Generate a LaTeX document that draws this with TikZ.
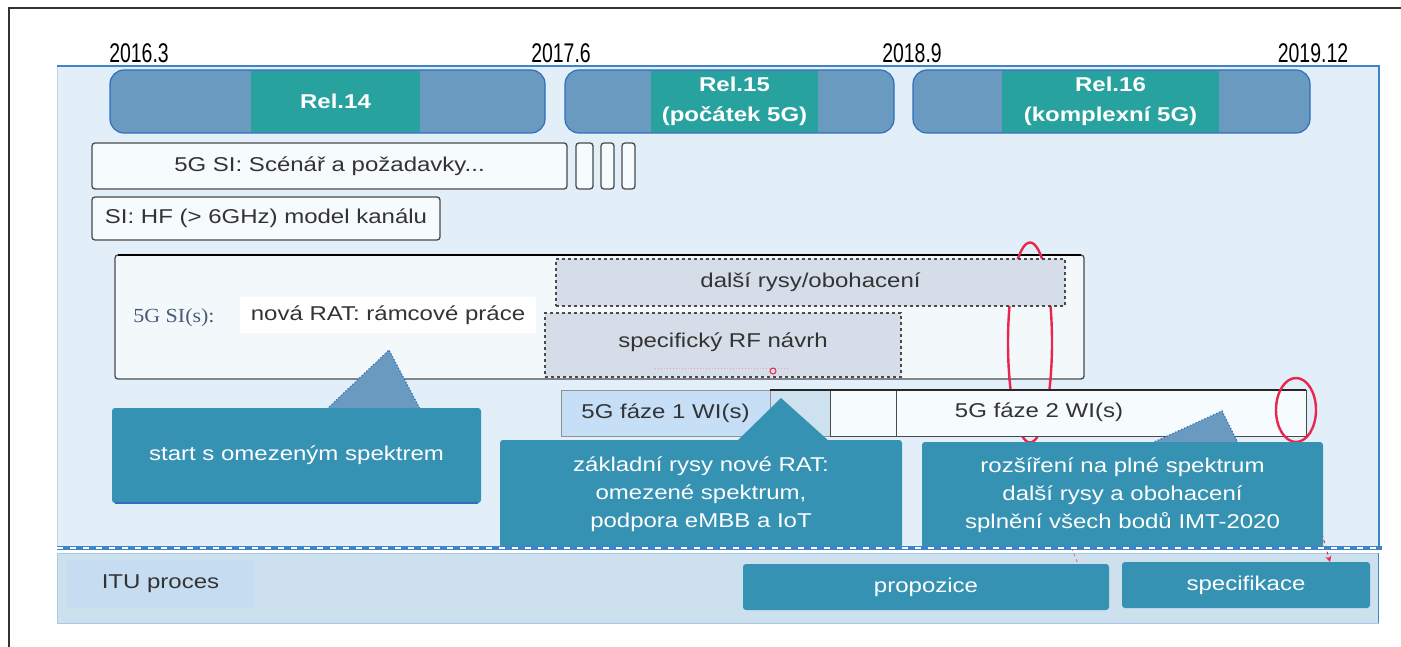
\documentclass[tikz,border=0pt]{standalone}
\usepackage{fontspec}
\setmainfont{Liberation Sans}[FakeStretch=1.2]
\newfontfamily\datefont{Liberation Sans}[FakeStretch=0.72]
\newfontfamily\labelserif{Liberation Serif}[FakeStretch=1.1]
\usetikzlibrary{arrows.meta}

\definecolor{panelfill}{HTML}{E3EFF8}
\definecolor{panelline}{HTML}{3F83C9}
\definecolor{relsteel}{HTML}{6A9ABF}
\definecolor{relline}{HTML}{2E6FBF}
\definecolor{relteal}{HTML}{27A29E}
\definecolor{callteal}{HTML}{3592B2}
\definecolor{siline}{HTML}{4A4A4A}
\definecolor{sifill}{HTML}{F6FBFE}
\definecolor{bigfill}{HTML}{F3F8FB}
\definecolor{dashfill}{HTML}{D5DDE9}
\definecolor{phonefill}{HTML}{C6DFF7}
\definecolor{phonetail}{HTML}{CDE1EE}
\definecolor{itufill}{HTML}{CCE0EE}
\definecolor{itubox}{HTML}{C6DCF0}
\definecolor{ring}{HTML}{E8264E}
\definecolor{txt}{HTML}{333333}
\definecolor{sislabel}{HTML}{4A5A78}

\begin{document}
\begin{tikzpicture}[x=1pt,y=-1pt,
  every node/.style={inner sep=0pt, outer sep=0pt},
  corner/.style={anchor=north west},
  body/.style={font=\fontsize{20}{28}\selectfont, text=txt},
  datelbl/.style={font=\datefont\fontsize{27}{30}\selectfont, text=black},
  relbar/.style={corner, fill=relsteel, draw=relline, line width=1.2pt, rounded corners=14pt},
  relcore/.style={corner, fill=relteal, text=white, align=center,
    font=\bfseries\fontsize{20}{30}\selectfont},
  sibox/.style={corner, body, fill=sifill, draw=siline, line width=1.3pt, rounded corners=3pt},
  dashbox/.style={corner, body, fill=dashfill, draw=siline, line width=1.1pt, dashed},
  phbox/.style={corner, body, draw=siline, line width=1pt},
  callbox/.style={corner, fill=callteal, text=white, align=center, rounded corners=3pt,
    font=\fontsize{20}{28}\selectfont},
  steelptr/.style={fill=relsteel},
  ptredge/.style={draw=relline, line width=1.2pt, dotted},
  redring/.style={draw=ring, line width=2.4pt},
  reddash/.style={draw=ring, line width=1pt, dashed},
]
\useasboundingbox (0,0) rectangle (1401,647);

% outer frame
\draw[black!80, line width=2pt] (9,647) -- (9,8) -- (1401,8);

% main panel and ITU strip
\node[corner, fill=panelfill, draw=panelline!35, line width=1pt,
  minimum width=1322, minimum height=482] (main) at (57,66) {};
\draw[panelline, line width=1.6pt] (main.north west) -- (main.north east) -- (main.south east);
\node[corner, fill=itufill, draw=panelline!45, line width=0.8pt,
  minimum width=1321, minimum height=70] (itu) at (57,553) {};
\draw[panelline, line width=1pt] (itu.north east) -- (itu.south east);

% time axis
\node[datelbl] (d1) at (139,53) {2016.3};
\node[datelbl] (d2) at (561,53) {2017.6};
\node[datelbl] (d3) at (912,53) {2018.9};
\node[datelbl] (d4) at (1313,53) {2019.12};

% releases
\node[relbar, minimum width=435, minimum height=63] (bar14) at (110,70) {};
\node[relcore, minimum width=169, minimum height=61] (rel14) at (251,71) {Rel.14};
\node[relbar, minimum width=329, minimum height=63] (bar15) at (565,70) {};
\node[relcore, minimum width=167, minimum height=61] (rel15) at (651,71) {Rel.15\\(počátek 5G)};
\node[relbar, minimum width=397, minimum height=63] (bar16) at (913,70) {};
\node[relcore, minimum width=217, minimum height=61] (rel16) at (1002,71) {Rel.16\\(komplexní 5G)};

% study items
\node[sibox, minimum width=475, minimum height=46] (scen) at (92,143) {5G SI: Scénář a požadavky...};
\node[sibox, minimum width=17, minimum height=46] (sa) at (576,143) {};
\node[sibox, minimum width=13, minimum height=46] (sb) at (601,143) {};
\node[sibox, minimum width=13, minimum height=46] (sc) at (622,143) {};
\node[sibox, minimum width=348, minimum height=43] (hf) at (92,197) {SI: HF (> 6GHz) model kanálu};

% 5G study items block
\node[corner, fill=bigfill, draw=siline, line width=1.3pt, rounded corners=3pt,
  minimum width=969, minimum height=124] (sis) at (115,255) {};
\draw[black, line width=1.8pt] ([xshift=3pt]sis.north west) -- ([xshift=-3pt]sis.north east);
\node[font=\labelserif\fontsize{20}{24}\selectfont, text=sislabel] (sislbl) at (174,318) {5G SI(s):};
\node[corner, body, fill=white, minimum width=296, minimum height=36] (rat) at (240,297) {nová RAT: rámcové práce};

% marker spanning the phase boundary
\draw[redring] (1030,342.5) ellipse [x radius=22, y radius=100];
\coordinate (ringa) at (1030,442);

\node[dashbox, minimum width=509, minimum height=47] (dalsi) at (556,259) {další rysy/obohacení};
\node[dashbox, minimum width=356, minimum height=64] (rf) at (545,313) {};
\node[body] (rflbl) at (723,342) {specifický RF návrh};
\draw[ring!45, line width=1pt, dotted] (655,368) -- (790,368);
\draw[ring, line width=1pt] (773,371) circle [radius=3];

% work items
\node[phbox, fill=phonefill, draw=siline!60, minimum width=209, minimum height=46] (ph1) at (561,390) {5G fáze 1 WI(s)};
\node[phbox, fill=phonetail, draw=siline!60, minimum width=60, minimum height=46] (ph1b) at (770,390) {};
\node[phbox, fill=sifill, minimum width=66, minimum height=46] (gap) at (830,390) {};
\node[phbox, fill=sifill, minimum width=410, minimum height=46] (ph2) at (896,390) {};
\node[body] (ph2lbl) at (1039,412) {5G fáze 2 WI(s)};
\draw[black!85, line width=2pt] (ph1b.north west) -- (ph2.north east);

% marker at the end of phase 2
\draw[redring] (1296,410) ellipse [x radius=20, y radius=32];
\coordinate (ringb) at (1296,442);

% ITU process
\node[corner, body, fill=itubox, minimum width=187, minimum height=48] (itup) at (67,560) {ITU proces};
\node[callbox, minimum width=366, minimum height=46] (prop) at (743,564) {propozice};
\node[callbox, minimum width=248, minimum height=46] (spec) at (1122,562) {specifikace};
\coordinate (specin) at (1330,562);
\coordinate (propin) at (1078,564);

% links from the markers to the ITU steps
\draw[reddash, ring!70, line width=0.8pt] (ringa) -- (propin);
\draw[reddash, -{Stealth[length=6pt,width=6pt]}] (ringb) -- (specin);

% callouts with their pointers
\coordinate (pa) at (389,350);
\fill[steelptr] (pa) -- (327,409) -- (420,409) -- cycle;
\draw[ptredge] (327,409) -- (pa) -- (420,409);
\node[callbox, minimum width=369, minimum height=95] (c1) at (112,408) {start s omezeným spektrem};
\draw[relline, line width=1.2pt] ([xshift=3pt]c1.south west) -- ([xshift=-3pt]c1.south east);

\coordinate (pb) at (781,398);
\fill[callteal] (pb) -- (736,442) -- (830,442) -- cycle;
\node[callbox, minimum width=402, minimum height=108] (c2) at (500,440)
  {základní rysy nové RAT:\\omezené spektrum,\\podpora eMBB a IoT};

\coordinate (pc) at (1222,411);
\fill[steelptr] (pc) -- (1152,443) -- (1238,443) -- cycle;
\draw[ptredge] (1152,443) -- (pc) -- (1238,443);
\node[callbox, minimum width=401, minimum height=106] (c3) at (922,442)
  {rozšíření na plné spektrum\\další rysy a obohacení\\splnění všech bodů IMT-2020};

% boundary between 3GPP and ITU
\draw[panelline, line width=3.5pt] (main.south west) -- ([xshift=3pt]main.south east);
\draw[white, line width=1.2pt, dash pattern=on 6pt off 7pt] (main.south west) -- ([xshift=3pt]main.south east);

\end{tikzpicture}
\end{document}
